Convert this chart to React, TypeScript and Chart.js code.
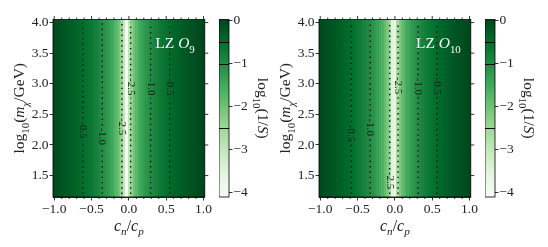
import React, { useEffect, useRef } from "react";
import { Chart, registerables } from "chart.js";
Chart.register(...registerables);

// ---------------- data ----------------
const cnGrid = [
  -1.0, -0.9667, -0.9333, -0.9, -0.8667, -0.8333, -0.8, -0.7667, -0.7333, -0.7,
  -0.6667, -0.6333, -0.6, -0.5667, -0.5333, -0.5, -0.4667, -0.4333, -0.4, -0.3667,
  -0.3333, -0.3, -0.2667, -0.2333, -0.2, -0.1667, -0.1333, -0.1, -0.0667, -0.0333,
  0.0, 0.0333, 0.0667, 0.1, 0.1333, 0.1667, 0.2, 0.2333, 0.2667, 0.3,
  0.3333, 0.3667, 0.4, 0.4333, 0.4667, 0.5, 0.5333, 0.5667, 0.6, 0.6333,
  0.6667, 0.7, 0.7333, 0.7667, 0.8, 0.8333, 0.8667, 0.9, 0.9333, 0.9667, 1.0,
];

// log10(1/S) per c_n/c_p column (nearly constant along the mass axis)
const o9Values = [
  -0.05, -0.08, -0.11, -0.15, -0.18, -0.22, -0.25, -0.29, -0.33, -0.37,
  -0.42, -0.47, -0.52, -0.57, -0.62, -0.68, -0.75, -0.82, -0.9, -0.98,
  -1.07, -1.17, -1.29, -1.43, -1.59, -1.78, -2.03, -2.39, -3.02, -4.1,
  -2.93, -2.35, -2.01, -1.76, -1.57, -1.41, -1.28, -1.16, -1.06, -0.97,
  -0.89, -0.81, -0.74, -0.68, -0.62, -0.56, -0.51, -0.46, -0.41, -0.37,
  -0.33, -0.29, -0.25, -0.21, -0.18, -0.14, -0.11, -0.08, -0.05, -0.02, 0.01,
];
const o10Values = [
  -0.03, -0.06, -0.09, -0.13, -0.16, -0.19, -0.23, -0.27, -0.31, -0.35,
  -0.39, -0.44, -0.49, -0.54, -0.59, -0.65, -0.71, -0.78, -0.85, -0.93,
  -1.01, -1.11, -1.22, -1.34, -1.49, -1.66, -1.87, -2.16, -2.59, -3.5,
  -3.67, -2.65, -2.2, -1.9, -1.68, -1.5, -1.36, -1.23, -1.12, -1.02,
  -0.94, -0.86, -0.78, -0.72, -0.65, -0.6, -0.54, -0.49, -0.44, -0.4,
  -0.35, -0.31, -0.27, -0.23, -0.2, -0.16, -0.13, -0.1, -0.07, -0.04, -0.01,
];

const o9ContourLevels = [-0.5, -1.0, -2.5, -2.5, -1.0, -0.5];
const o9ContourX = [-0.615, -0.356, -0.094, 0.023, 0.291, 0.547];
const o9LabelY = [2.25, 2.14, 2.3, 2.95, 2.95, 2.95];

const o10ContourLevels = [-0.5, -1.0, -2.5, -2.5, -1.0, -0.5];
const o10ContourX = [-0.584, -0.33, -0.07, 0.043, 0.312, 0.561];
const o10LabelY = [2.19, 2.29, 1.42, 2.97, 2.96, 2.96];

const massRange = [1.15, 4.05];
const contourMassRange = [1.2, 4.0];
const cnRange = [-1.0167, 1.0167];
const xTicks = [-1.0, -0.5, 0.0, 0.5, 1.0];
const xMinorTicks = [-0.9, -0.8, -0.7, -0.6, -0.4, -0.3, -0.2, -0.1, 0.1, 0.2, 0.3, 0.4, 0.6, 0.7, 0.8, 0.9];
const yTicks = [1.5, 2.0, 2.5, 3.0, 3.5, 4.0];
const cbRange = [-4.1, 0.03];
const cbTicks = [0, -1, -2, -3, -4];
const cbLines = [-0.5, -1.0, -2.5];

const GREENS = ["#f7fcf5", "#e5f5e0", "#c7e9c0", "#a1d99b", "#74c476", "#41ab5d", "#238b45", "#006d2c", "#00441b"];
const FONT = "'Liberation Serif', 'DejaVu Serif', serif";

// ---------------- helpers ----------------
function hexToRgb(h: string) {
  return [parseInt(h.slice(1, 3), 16), parseInt(h.slice(3, 5), 16), parseInt(h.slice(5, 7), 16)];
}
const GREENS_RGB = GREENS.map(hexToRgb);
function greens(v: number) {
  let t = (v - cbRange[0]) / (cbRange[1] - cbRange[0]);
  t = Math.max(0, Math.min(1, t));
  const p = t * (GREENS_RGB.length - 1);
  const i = Math.min(Math.floor(p), GREENS_RGB.length - 2);
  const f = p - i;
  const a = GREENS_RGB[i], b = GREENS_RGB[i + 1];
  const c = a.map((x, k) => Math.round(x + (b[k] - x) * f));
  return `rgb(${c[0]},${c[1]},${c[2]})`;
}
const minus = (s: string) => s.replace("-", "\u2212");

type Seg = { t: string; it?: boolean; sub?: boolean };
function drawRich(ctx: CanvasRenderingContext2D, segs: Seg[], x: number, y: number, size: number, color: string, rot: number, align: "center" | "right" = "center") {
  ctx.save();
  ctx.translate(x, y);
  ctx.rotate(rot);
  const fontOf = (s: Seg) => `${s.it ? "italic " : ""}${s.sub ? size * 0.7 : size}px ${FONT}`;
  let w = 0;
  const ws = segs.map((s) => {
    ctx.font = fontOf(s);
    const m = ctx.measureText(s.t).width;
    w += m;
    return m;
  });
  let cx = align === "center" ? -w / 2 : -w;
  ctx.fillStyle = color;
  ctx.textBaseline = "alphabetic";
  ctx.textAlign = "left";
  segs.forEach((s, i) => {
    ctx.font = fontOf(s);
    ctx.fillText(s.t, cx, s.sub ? size * 0.35 + size * 0.28 : size * 0.35);
    cx += ws[i];
  });
  ctx.restore();
}

type PanelProps = {
  offset: number;
  values: number[];
  contourX: number[];
  contourLevels: number[];
  labelY: number[];
  sub: string;
};

function Panel({ offset, values, contourX, contourLevels, labelY, sub }: PanelProps) {
  const mainRef = useRef<HTMLCanvasElement>(null);
  const cbRef = useRef<HTMLCanvasElement>(null);

  useEffect(() => {
    const gap = 0.18;
    const datasets = contourX.map((cx, k) => ({
      data: [
        { x: cx, y: contourMassRange[0] },
        { x: cx, y: labelY[k] - gap },
        { x: cx, y: null },
        { x: cx, y: labelY[k] + gap },
        { x: cx, y: contourMassRange[1] },
      ],
      showLine: true,
      spanGaps: false,
      borderColor: "#111",
      borderWidth: 1.4,
      borderDash: [1.4, 3.9],
      pointRadius: 0,
      fill: false,
    }));

    const heatmap = {
      id: "heatmap",
      beforeDatasetsDraw(chart: any) {
        const { ctx, chartArea, scales } = chart;
        const xs = scales.x, ys = scales.y;
        ctx.save();
        ctx.beginPath();
        ctx.rect(chartArea.left, chartArea.top, chartArea.right - chartArea.left, chartArea.bottom - chartArea.top);
        ctx.clip();
        const top = ys.getPixelForValue(massRange[1]);
        const bot = ys.getPixelForValue(massRange[0]);
        for (let i = 0; i < cnGrid.length; i++) {
          const lo = i === 0 ? cnRange[0] : (cnGrid[i - 1] + cnGrid[i]) / 2;
          const hi = i === cnGrid.length - 1 ? cnRange[1] : (cnGrid[i] + cnGrid[i + 1]) / 2;
          const x0 = Math.round(xs.getPixelForValue(lo));
          const x1 = Math.round(xs.getPixelForValue(hi));
          ctx.fillStyle = greens(values[i]);
          ctx.fillRect(x0, top, x1 - x0 + 0.5, bot - top);
        }
        ctx.restore();
      },
      afterDatasetsDraw(chart: any) {
        const { ctx, chartArea, scales } = chart;
        const xs = scales.x, ys = scales.y;
        // contour labels
        ctx.save();
        ctx.font = `11px ${FONT}`;
        ctx.fillStyle = "#1a1a1a";
        ctx.textAlign = "center";
        ctx.textBaseline = "middle";
        contourX.forEach((cx, k) => {
          ctx.save();
          ctx.translate(xs.getPixelForValue(cx), ys.getPixelForValue(labelY[k]));
          ctx.rotate(Math.PI / 2);
          ctx.fillText(contourLevels[k].toFixed(1), 0, 0);
          ctx.restore();
        });
        ctx.restore();
        // panel title
        drawRich(ctx, [{ t: "LZ " }, { t: "O", it: true }, { t: sub, sub: true }], chartArea.right - 10, 43, 15.5, "#ffffff", 0, "right");
        // frame
        ctx.save();
        ctx.strokeStyle = "#000";
        ctx.lineWidth = 0.8;
        ctx.strokeRect(chartArea.left, chartArea.top, chartArea.right - chartArea.left, chartArea.bottom - chartArea.top);
        ctx.beginPath();
        xTicks.forEach((v) => {
          const px = xs.getPixelForValue(v);
          ctx.moveTo(px, chartArea.top);
          ctx.lineTo(px, chartArea.top - 3.5);
        });
        yTicks.forEach((v) => {
          const py = ys.getPixelForValue(v);
          ctx.moveTo(chartArea.right, py);
          ctx.lineTo(chartArea.right + 3.5, py);
        });
        xMinorTicks.forEach((v) => {
          const px = xs.getPixelForValue(v);
          ctx.moveTo(px, chartArea.bottom);
          ctx.lineTo(px, chartArea.bottom + 2);
          ctx.moveTo(px, chartArea.top);
          ctx.lineTo(px, chartArea.top - 2);
        });
        ctx.stroke();
        ctx.restore();
        // axis titles
        const midX = (chartArea.left + chartArea.right) / 2;
        const midY = (chartArea.top + chartArea.bottom) / 2;
        drawRich(ctx, [{ t: "c", it: true }, { t: "n", it: true, sub: true }, { t: "/" }, { t: "c", it: true }, { t: "p", it: true, sub: true }], midX, 225, 16, "#222", 0);
        drawRich(ctx, [{ t: "log" }, { t: "10", sub: true }, { t: "(" }, { t: "m", it: true }, { t: "\u03c7", it: true, sub: true }, { t: "/GeV)" }], 19, midY, 15.5, "#222", -Math.PI / 2);
      },
    };

    const tickFont = { family: FONT, size: 13.5 };
    const main = new Chart(mainRef.current!, {
      type: "scatter",
      data: { datasets: datasets as any },
      options: {
        animation: false,
        responsive: false,
        maintainAspectRatio: false,
        devicePixelRatio: 1,
        layout: { padding: { left: 0, right: 3, top: 19.5, bottom: 0 } },
        plugins: { legend: { display: false }, tooltip: { enabled: false } },
        scales: {
          x: {
            type: "linear",
            min: cnRange[0],
            max: cnRange[1],
            afterBuildTicks: (s: any) => { s.ticks = xTicks.map((v) => ({ value: v })); },
            afterFit: (s: any) => { s.height = 50; },
            ticks: { font: tickFont, color: "#222", padding: 1, maxRotation: 0, autoSkip: false, callback: (v: any) => minus(Number(v).toFixed(1)) },
            grid: { drawOnChartArea: false, tickLength: 3.5, color: "#000", lineWidth: 0.8 },
            border: { display: true, color: "#000", width: 0.8 },
          },
          y: {
            type: "linear",
            min: massRange[0],
            max: massRange[1],
            afterBuildTicks: (s: any) => { s.ticks = yTicks.map((v) => ({ value: v })); },
            afterFit: (s: any) => { s.width = 53; },
            ticks: { font: tickFont, color: "#222", padding: 1, autoSkip: false, callback: (v: any) => Number(v).toFixed(1) },
            grid: { drawOnChartArea: false, tickLength: 3.5, color: "#000", lineWidth: 0.8 },
            border: { display: true, color: "#000", width: 0.8 },
          },
        },
      },
      plugins: [heatmap],
    });

    const cbPlugin = {
      id: "cb",
      beforeDatasetsDraw(chart: any) {
        const { ctx, chartArea, scales } = chart;
        const ys = scales.y;
        const g = ctx.createLinearGradient(0, ys.getPixelForValue(cbRange[0]), 0, ys.getPixelForValue(cbRange[1]));
        GREENS.forEach((c, i) => g.addColorStop(i / (GREENS.length - 1), c));
        ctx.save();
        ctx.fillStyle = g;
        ctx.fillRect(chartArea.left, chartArea.top, chartArea.right - chartArea.left, chartArea.bottom - chartArea.top);
        ctx.strokeStyle = "#000";
        ctx.lineWidth = 1;
        ctx.beginPath();
        cbLines.forEach((v) => {
          const py = Math.round(ys.getPixelForValue(v)) + 0.5;
          ctx.moveTo(chartArea.left, py);
          ctx.lineTo(chartArea.right, py);
        });
        ctx.stroke();
        ctx.lineWidth = 0.8;
        ctx.strokeRect(chartArea.left, chartArea.top, chartArea.right - chartArea.left, chartArea.bottom - chartArea.top);
        ctx.restore();
        drawRich(ctx, [{ t: "log" }, { t: "10", sub: true }, { t: "(1/" }, { t: "S", it: true }, { t: ")" }], 44, (chartArea.top + chartArea.bottom) / 2, 15.5, "#222", Math.PI / 2);
      },
    };

    const cb = new Chart(cbRef.current!, {
      type: "scatter",
      data: { datasets: [{ data: [] }] },
      options: {
        animation: false,
        responsive: false,
        maintainAspectRatio: false,
        devicePixelRatio: 1,
        layout: { padding: { left: 0, right: 0, top: 19.5, bottom: 50 } },
        plugins: { legend: { display: false }, tooltip: { enabled: false } },
        scales: {
          x: { display: false, min: 0, max: 1 },
          y: {
            type: "linear",
            position: "right",
            min: cbRange[0],
            max: cbRange[1],
            afterBuildTicks: (s: any) => { s.ticks = cbTicks.map((v) => ({ value: v })); },
            afterFit: (s: any) => { s.width = 50; },
            ticks: { font: tickFont, color: "#222", padding: 1, autoSkip: false, callback: (v: any) => minus(String(Number(v))) },
            grid: { drawOnChartArea: false, tickLength: 3.5, color: "#000", lineWidth: 0.8 },
            border: { display: false },
          },
        },
      },
      plugins: [cbPlugin],
    });

    return () => {
      main.destroy();
      cb.destroy();
    };
  }, []);

  return (
    <>
      <canvas ref={mainRef} width={213} height={247} style={{ position: "absolute", left: offset, top: 0 }} />
      <canvas ref={cbRef} width={60} height={247} style={{ position: "absolute", left: offset + 219, top: 0 }} />
    </>
  );
}

export default function App() {
  return (
    <div style={{ position: "fixed", left: 0, top: 0, width: 548, height: 247, background: "#fff", overflow: "hidden" }}>
      <Panel offset={0} values={o9Values} contourX={o9ContourX} contourLevels={o9ContourLevels} labelY={o9LabelY} sub="9" />
      <Panel offset={266} values={o10Values} contourX={o10ContourX} contourLevels={o10ContourLevels} labelY={o10LabelY} sub="10" />
    </div>
  );
}
